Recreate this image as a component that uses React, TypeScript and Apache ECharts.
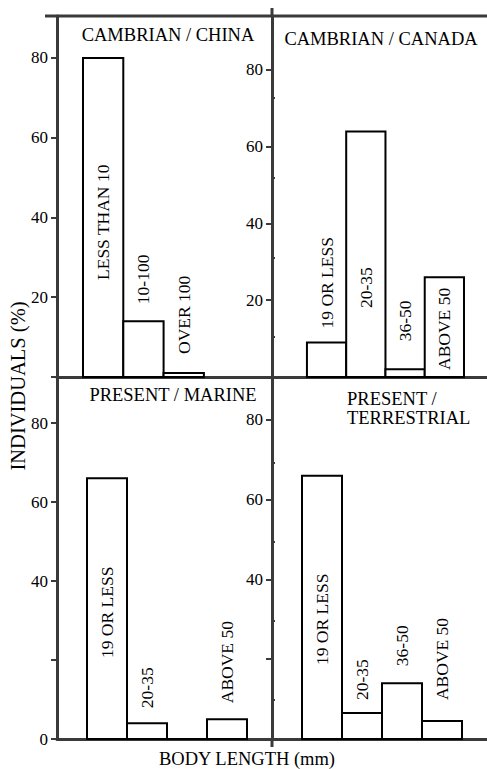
import React, { useEffect, useRef } from "react";
import * as echarts from "echarts";

// Body-length frequency data, one block per panel
const chinaCategories = ["LESS THAN 10", "10-100", "OVER 100"];
const chinaValues = [80, 14, 1];

const canadaCategories = ["19 OR LESS", "20-35", "36-50", "ABOVE 50"];
const canadaValues = [9, 64, 2, 26];

const marineCategories = ["19 OR LESS", "20-35", "36-50", "ABOVE 50"];
const marineValues = [66, 4, 0, 5];

const terrestrialCategories = ["19 OR LESS", "20-35", "36-50", "ABOVE 50"];
const terrestrialValues = [66, 6.5, 14, 4.5];

// Tick labels printed on each panel's axis
const chinaTickLabels = [20, 40, 60, 80];
const canadaTickLabels = [20, 40, 60, 80];
const marineTickLabels = [0, 40, 60, 80];
const terrestrialTickLabels = [40, 60, 80];

const majorTicks = [0, 20, 40, 60, 80];
const minorTicks = [10, 30, 50, 70];

const yTitle = "INDIVIDUALS (%)";
const xTitle = "BODY LENGTH (mm)";

const FONT = "'Liberation Serif', 'Times New Roman', serif";
const INK = "#000";
const FRAME = "#3a3a3a";

type Spot = { inside?: boolean; gap: number } | null;

interface Panel {
  title: string[];
  categories: string[];
  values: number[];
  tickLabels: number[];
  left: number;
  top: number;
  width: number;
  height: number;
  yMax: number;
  xMin: number;
  xMax: number;
  titleX: number;
  titleY: number;
  titleAlign: "center" | "left";
  spots: Spot[];
}

const panels: Panel[] = [
  {
    title: ["CAMBRIAN / CHINA"],
    categories: chinaCategories,
    values: chinaValues,
    tickLabels: chinaTickLabels,
    left: 57, top: 16, width: 215, height: 361,
    yMax: 90.53, xMin: -0.645, xMax: 4.69,
    titleX: 168, titleY: 35, titleAlign: "center",
    spots: [{ inside: true, gap: 97 }, { gap: 17 }, { gap: 19 }],
  },
  {
    title: ["CAMBRIAN / CANADA"],
    categories: canadaCategories,
    values: canadaValues,
    tickLabels: canadaTickLabels,
    left: 272, top: 16, width: 215, height: 361,
    yMax: 94.07, xMin: -0.89, xMax: 4.586,
    titleX: 381, titleY: 39, titleAlign: "center",
    spots: [{ gap: 14 }, { inside: true, gap: 69 }, { gap: 28 }, { inside: true, gap: 7 }],
  },
  {
    title: ["PRESENT / MARINE"],
    categories: marineCategories,
    values: marineValues,
    tickLabels: marineTickLabels,
    left: 57, top: 377, width: 215, height: 362,
    yMax: 91.65, xMin: -0.75, xMax: 4.625,
    titleX: 173, titleY: 395, titleAlign: "center",
    spots: [{ inside: true, gap: 81 }, { gap: 15 }, null, { gap: 16 }],
  },
  {
    title: ["PRESENT /", "TERRESTRIAL"],
    categories: terrestrialCategories,
    values: terrestrialValues,
    tickLabels: terrestrialTickLabels,
    left: 272, top: 377, width: 215, height: 362,
    yMax: 90.78, xMin: -0.75, xMax: 4.625,
    titleX: 347, titleY: 399, titleAlign: "left",
    spots: [{ inside: true, gap: 74 }, { gap: 13 }, { gap: 17 }, { gap: 21 }],
  },
];

function buildOption() {
  const grid: any[] = [];
  const xAxis: any[] = [];
  const yAxis: any[] = [];
  const series: any[] = [];
  const graphic: any[] = [];

  panels.forEach((p, i) => {
    grid.push({ left: p.left, top: p.top, width: p.width, height: p.height, containLabel: false });

    xAxis.push({
      gridIndex: i,
      type: "value",
      min: p.xMin,
      max: p.xMax,
      axisLine: { show: true, onZero: false, lineStyle: { color: FRAME, width: 3 } },
      axisTick: { show: false },
      axisLabel: { show: false },
      splitLine: { show: false },
    });

    // major ticks with labels
    yAxis.push({
      gridIndex: i,
      type: "value",
      min: 0,
      max: p.yMax,
      interval: 10,
      axisLine: { show: true, onZero: false, lineStyle: { color: FRAME, width: 3 } },
      axisTick: { show: true, length: 6, customValues: majorTicks, lineStyle: { color: FRAME, width: 2 } },
      axisLabel: {
        show: true,
        customValues: p.tickLabels,
        margin: 9,
        fontFamily: FONT,
        fontSize: 17,
        color: INK,
        formatter: (v: number) => (p.tickLabels.includes(Math.round(v * 100) / 100) ? String(v) : ""),
      },
      splitLine: { show: false },
    });

    // minor ticks
    yAxis.push({
      gridIndex: i,
      type: "value",
      min: 0,
      max: p.yMax,
      interval: 10,
      axisLine: { show: false, onZero: false },
      axisTick: { show: true, length: 3, customValues: minorTicks, lineStyle: { color: FRAME, width: 2 } },
      axisLabel: { show: false },
      splitLine: { show: false },
    });

    const labels = p.categories;
    const spots = p.spots;
    series.push({
      type: "custom",
      xAxisIndex: i,
      yAxisIndex: i * 2,
      data: p.values.map((v, k) => [k, v]),
      renderItem: (params: any, api: any) => {
        const k = api.value(0);
        const v = api.value(1);
        const topLeft = api.coord([k, v]);
        const baseRight = api.coord([k + 1, 0]);
        const children: any[] = [
          {
            type: "rect",
            shape: {
              x: topLeft[0],
              y: topLeft[1],
              width: baseRight[0] - topLeft[0],
              height: baseRight[1] - topLeft[1],
            },
            style: { fill: "#fff", stroke: INK, lineWidth: 2 },
          },
        ];
        const spot = spots[params.dataIndex];
        if (spot) {
          const cx = (topLeft[0] + baseRight[0]) / 2;
          const y = spot.inside ? baseRight[1] - spot.gap : topLeft[1] - spot.gap;
          children.push({
            type: "text",
            x: cx,
            y,
            rotation: Math.PI / 2,
            style: {
              text: labels[params.dataIndex],
              font: `17.5px ${FONT}`,
              fill: INK,
              align: "left",
              verticalAlign: "middle",
              textAlign: "left",
              textVerticalAlign: "middle",
            },
          });
        }
        return { type: "group", children };
      },
    });

    p.title.forEach((line, j) => {
      graphic.push({
        type: "text",
        x: p.titleX,
        y: p.titleY + j * 19,
        style: {
          text: line,
          font: `18.5px ${FONT}`,
          fill: INK,
          align: p.titleAlign,
          verticalAlign: "middle",
          textAlign: p.titleAlign,
          textVerticalAlign: "middle",
        },
      });
    });
  });

  // outer frame pieces not covered by the axes
  const frameLine = (x1: number, y1: number, x2: number, y2: number) => ({
    type: "line",
    shape: { x1, y1, x2, y2 },
    style: { stroke: FRAME, lineWidth: 3 },
  });
  graphic.push(frameLine(45, 16, 487, 16));
  graphic.push(frameLine(272, 8, 272, 16));
  graphic.push(frameLine(272, 739, 272, 747));

  graphic.push({
    type: "text",
    x: 18,
    y: 386,
    rotation: Math.PI / 2,
    style: {
      text: yTitle,
      font: `20.5px ${FONT}`,
      fill: INK,
      align: "center",
      verticalAlign: "middle",
      textAlign: "center",
      textVerticalAlign: "middle",
    },
  });
  graphic.push({
    type: "text",
    x: 247,
    y: 759,
    style: {
      text: xTitle,
      font: `18.5px ${FONT}`,
      fill: INK,
      align: "center",
      verticalAlign: "middle",
      textAlign: "center",
      textVerticalAlign: "middle",
    },
  });

  return {
    animation: false,
    backgroundColor: "#fff",
    grid,
    xAxis,
    yAxis,
    series,
    graphic,
  };
}

export default function App() {
  const ref = useRef<HTMLDivElement>(null);

  useEffect(() => {
    if (!ref.current) return;
    const chart = echarts.init(ref.current, undefined, { renderer: "svg" });
    chart.setOption(buildOption() as any);
    return () => chart.dispose();
  }, []);

  return (
    <div
      ref={ref}
      style={{ position: "fixed", left: 0, top: 0, width: 487, height: 769, background: "#fff" }}
    />
  );
}
